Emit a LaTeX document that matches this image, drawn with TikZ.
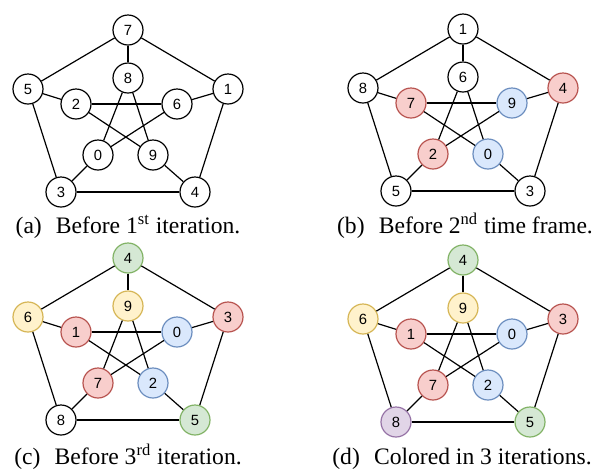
\documentclass[tikz,border=0pt]{standalone}
\usepackage{fontspec}
\setmainfont{Liberation Serif}
\newfontfamily\vtxfont{Liberation Sans}

\definecolor{redfill}{HTML}{F8CECC}
\definecolor{redline}{HTML}{B85450}
\definecolor{bluefill}{HTML}{DAE8FC}
\definecolor{blueline}{HTML}{6C8EBF}
\definecolor{greenfill}{HTML}{D5E8D4}
\definecolor{greenline}{HTML}{82B366}
\definecolor{yellowfill}{HTML}{FFF2CC}
\definecolor{yellowline}{HTML}{D6B656}
\definecolor{purplefill}{HTML}{E1D5E7}
\definecolor{purpleline}{HTML}{9673A6}

\tikzset{
  vertex/.style={circle, draw, fill=white, line width=0.6pt, minimum size=15pt,
    inner sep=0pt, font=\vtxfont\fontsize{7.4}{8}\selectfont},
  redv/.style={vertex, fill=redfill, draw=redline},
  bluev/.style={vertex, fill=bluefill, draw=blueline},
  greenv/.style={vertex, fill=greenfill, draw=greenline},
  yellowv/.style={vertex, fill=yellowfill, draw=yellowline},
  purplev/.style={vertex, fill=purplefill, draw=purpleline},
  edge/.style={line width=0.6pt},
  caption/.style={anchor=base, inner sep=0pt, font=\fontsize{11.8}{13}\selectfont},
}

\begin{document}
\begin{tikzpicture}[x=0.5pt, y=-0.5pt]
  \useasboundingbox (0,0) rectangle (596,468);

  % (a)
  \begin{scope}
    \node[vertex] (a-ot)  at (128,30)  {7};
    \node[vertex] (a-it)  at (128,78)  {8};
    \node[vertex] (a-ol)  at (28,89)   {5};
    \node[vertex] (a-or)  at (228,89)  {1};
    \node[vertex] (a-il)  at (76,104)  {2};
    \node[vertex] (a-ir)  at (177,104) {6};
    \node[vertex] (a-ibl) at (98,155)  {0};
    \node[vertex] (a-ibr) at (153,155) {9};
    \node[vertex] (a-obl) at (61,192)  {3};
    \node[vertex] (a-obr) at (195,192) {4};
  \end{scope}
  \node[caption] (cap-a) at (128,233) {(a)\hspace{0.6em}Before 1\textsuperscript{st} iteration.};

  % (b)
  \begin{scope}[shift={(335,-1)}]
    \node[vertex] (b-ot)  at (128,30)  {1};
    \node[vertex] (b-it)  at (128,78)  {6};
    \node[vertex] (b-ol)  at (28,89)   {8};
    \node[redv]   (b-or)  at (228,89)  {4};
    \node[redv]   (b-il)  at (76,104)  {7};
    \node[bluev]  (b-ir)  at (177,104) {9};
    \node[redv]   (b-ibl) at (98,155)  {2};
    \node[bluev]  (b-ibr) at (153,155) {0};
    \node[vertex] (b-obl) at (61,192)  {5};
    \node[vertex] (b-obr) at (195,192) {3};
  \end{scope}
  \node[caption] (cap-b) at (465,233) {(b)\hspace{0.6em}Before 2\textsuperscript{nd} time frame.};

  % (c)
  \begin{scope}[shift={(0,228)}]
    \node[greenv]  (c-ot)  at (128,30)  {4};
    \node[yellowv] (c-it)  at (128,78)  {9};
    \node[yellowv] (c-ol)  at (28,89)   {6};
    \node[redv]    (c-or)  at (228,89)  {3};
    \node[redv]    (c-il)  at (76,104)  {1};
    \node[bluev]   (c-ir)  at (177,104) {0};
    \node[redv]    (c-ibl) at (98,155)  {7};
    \node[bluev]   (c-ibr) at (153,155) {2};
    \node[vertex]  (c-obl) at (61,192)  {8};
    \node[greenv]  (c-obr) at (195,192) {5};
  \end{scope}
  \node[caption] (cap-c) at (128,464) {(c)\hspace{0.6em}Before 3\textsuperscript{rd} iteration.};

  % (d)
  \begin{scope}[shift={(335,230)}]
    \node[greenv]   (d-ot)  at (128,30)  {4};
    \node[yellowv]  (d-it)  at (128,78)  {9};
    \node[yellowv]  (d-ol)  at (28,89)   {6};
    \node[redv]     (d-or)  at (228,89)  {3};
    \node[redv]     (d-il)  at (76,104)  {1};
    \node[bluev]    (d-ir)  at (177,104) {0};
    \node[redv]     (d-ibl) at (98,155)  {7};
    \node[bluev]    (d-ibr) at (153,155) {2};
    \node[purplev]  (d-obl) at (61,192)  {8};
    \node[greenv]   (d-obr) at (195,192) {5};
  \end{scope}
  \node[caption] (cap-d) at (462,464) {(d)\hspace{0.6em}Colored in 3 iterations.};

  % edges, same Petersen layout in every panel
  \foreach \p in {a,b,c,d}
    \foreach \u/\v in {ot/it, ot/ol, ot/or, ol/il, or/ir, ol/obl, or/obr, obl/obr,
                       obl/ibl, obr/ibr, il/ir, il/ibr, it/ibl, it/ibr, ir/ibl}
      \draw[edge] (\p-\u) -- (\p-\v);
\end{tikzpicture}
\end{document}
